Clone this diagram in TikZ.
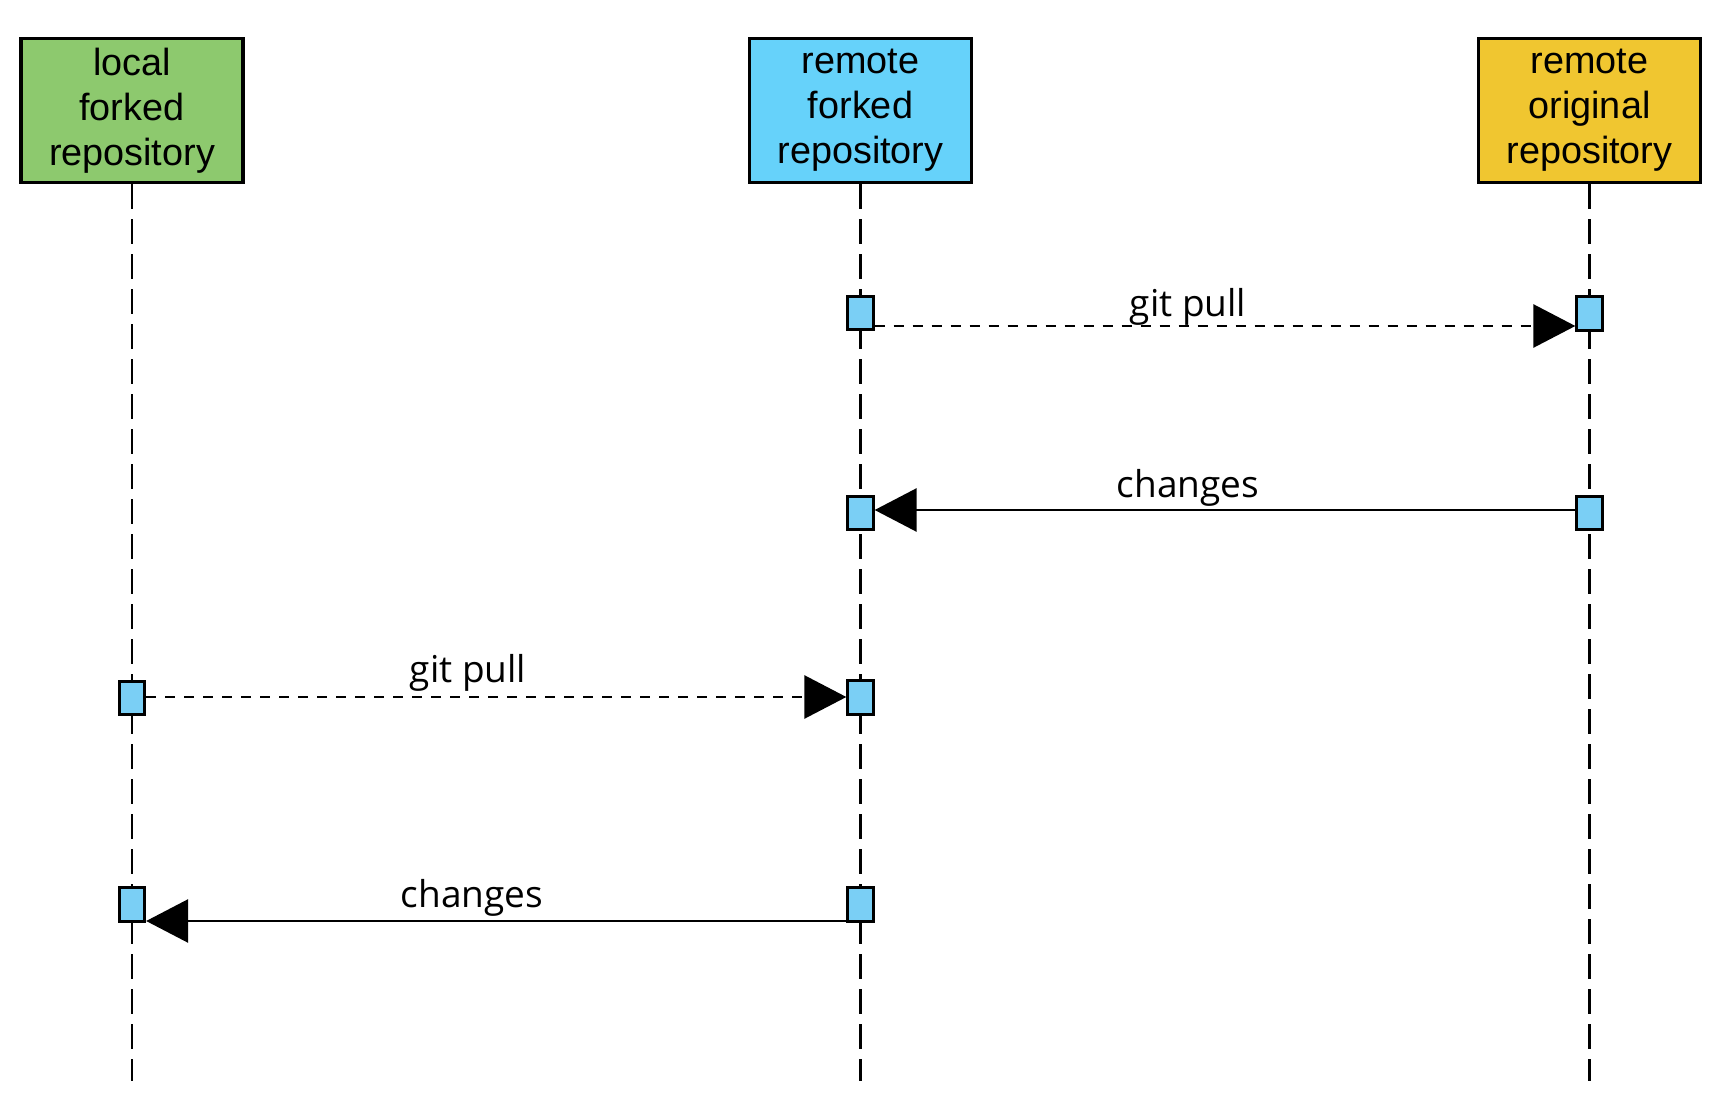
\documentclass[tikz,border=0pt]{standalone}
\usepackage{fontspec}
\setmainfont{Liberation Sans}
\newfontfamily\lblfont{Open Sans}
\usetikzlibrary{arrows.meta}
\definecolor{hgreen}{HTML}{8DC96E}
\definecolor{hblue}{HTML}{66D2FA}
\definecolor{hyellow}{HTML}{F0C630}
\definecolor{actblue}{HTML}{7ACFF5}
\tikzset{
  header/.style={draw=black, line width=1.7pt, minimum width=111pt, minimum height=72pt,
    inner sep=0pt, align=center, font=\fontsize{18.9}{22.5}\selectfont},
  act/.style={draw=black, fill=actblue, line width=1.4pt, minimum width=12.75pt,
    minimum height=16.75pt, inner sep=0pt},
  lifeline/.style={line width=1.45pt, dash pattern=on 12.5pt off 5pt},
  msgsolid/.style={line width=1.4pt, -{Triangle[length=21pt,width=21.5pt]}},
  msgdash/.style={msgsolid, dash pattern=on 5pt off 4.5pt},
  lbl/.style={anchor=base, inner sep=0pt, font=\lblfont\fontsize{18.5}{22}\selectfont}
}
\begin{document}
\begin{tikzpicture}[x=0.5pt, y=-0.5pt]
\useasboundingbox (0,0) rectangle (1719,1117);
% headers
\node[header, fill=hgreen]  (loc) at (132,110.5)  {local\\forked\\repository};
\node[header, fill=hblue]   (rf)  at (860.5,110.5) {remote\\forked\\repository};
\node[header, fill=hyellow] (ro)  at (1589.5,110.5) {remote\\original\\repository};
% lifeline ends
\coordinate (locend) at (132,1081);
\coordinate (rfend) at (860.5,1081);
\coordinate (roend) at (1589.5,1081);
\draw[lifeline] (loc.south) -- (locend);
\draw[lifeline] (rf.south) -- (rfend);
\draw[lifeline] (ro.south) -- (roend);
% activations
\node[act] (a1) at (860.5,313) {};
\node[act] (a2) at (1589.5,313.5) {};
\node[act] (a3) at (860.5,513) {};
\node[act] (a4) at (1589.5,513) {};
\node[act] (a5) at (132,698) {};
\node[act] (a6) at (860.5,697.5) {};
\node[act] (a7) at (132,904.5) {};
\node[act] (a8) at (860.5,904.5) {};
% messages
\draw[msgdash] ([yshift=-6.5pt]a1.east) -- ([yshift=-6.5pt]a1.east -| a2.west);
\draw[msgsolid] ([yshift=1.5pt]a4.west) -- ([yshift=1.5pt]a4.west -| a3.east);
\draw[msgdash] ([yshift=0.5pt]a5.east) -- ([yshift=0.5pt]a5.east -| a6.west);
\draw[msgsolid] ([yshift=-8.25pt]a8.west) -- ([yshift=-8.25pt]a8.west -| a7.east);
% labels
\node[lbl] (l1) at (1188,317) {git pull};
\node[lbl] (l2) at (1188,498) {changes};
\node[lbl] (l3) at (468,682) {git pull};
\node[lbl] (l4) at (472,907) {changes};
\end{tikzpicture}
\end{document}
